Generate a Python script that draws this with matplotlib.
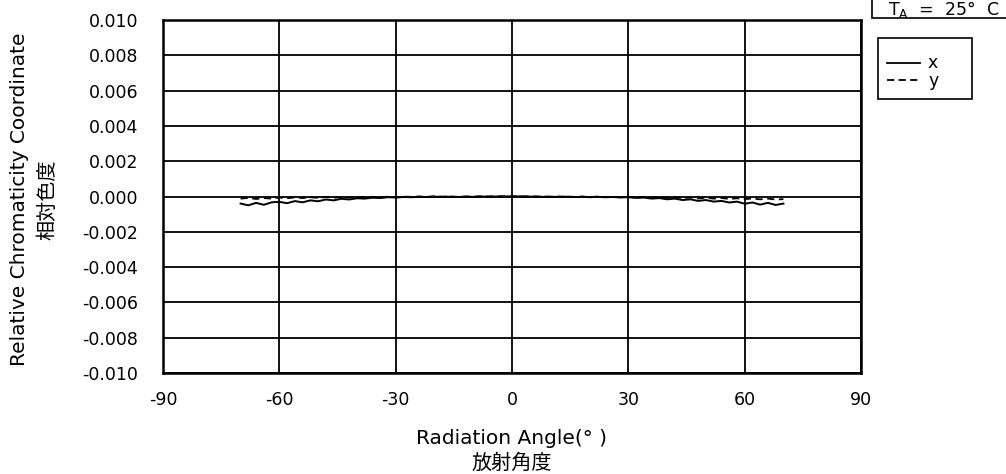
import matplotlib
matplotlib.use("Agg")
import matplotlib.pyplot as plt
from matplotlib.lines import Line2D
from matplotlib.patches import Rectangle

plt.rcParams['font.family'] = ['DejaVu Sans', 'Noto Sans CJK JP']

# radiation angle (deg)
angles = list(range(-70, 72, 2))

# relative chromaticity x (solid)
x_vals = [-0.00040, -0.00050, -0.00036, -0.00047, -0.00033, -0.00030, -0.00038, -0.00026,
          -0.00033, -0.00022, -0.00027, -0.00017, -0.00022, -0.00013, -0.00017, -0.00010,
          -0.00012, -0.00007, -0.00009, -0.00004, -0.00006, -0.00003, -0.00004, -0.00002,
          -0.00003, -0.00001, -0.00002, -0.00001, -0.00003, -0.00001, -0.00002, 0.00000,
          -0.00001, 0.00000, 0.00001, 0.00000, 0.00001, -0.00001, 0.00000, -0.00002,
          -0.00001, -0.00003, -0.00001, -0.00003, -0.00002, -0.00004, -0.00002, -0.00004,
          -0.00003, -0.00005, -0.00004, -0.00008, -0.00006, -0.00012, -0.00009, -0.00016,
          -0.00012, -0.00020, -0.00016, -0.00025, -0.00020, -0.00029, -0.00025, -0.00034,
          -0.00029, -0.00041, -0.00034, -0.00046, -0.00036, -0.00048, -0.00040]

# relative chromaticity y (dashed)
y_vals = [-0.00012, -0.00008, -0.00014, -0.00009, -0.00012, -0.00006, -0.00010, -0.00005,
          -0.00009, -0.00004, -0.00008, -0.00003, -0.00007, -0.00003, -0.00006, -0.00002,
          -0.00005, -0.00002, -0.00004, -0.00001, -0.00003, -0.00001, -0.00002, 0.00000,
          -0.00002, 0.00001, -0.00001, 0.00000, -0.00002, 0.00000, -0.00001, 0.00001,
          0.00000, 0.00001, 0.00000, 0.00001, 0.00000, 0.00001, -0.00001, 0.00000,
          -0.00002, 0.00000, -0.00001, -0.00002, 0.00000, -0.00003, -0.00001, -0.00004,
          -0.00002, -0.00005, -0.00002, -0.00006, -0.00003, -0.00007, -0.00004, -0.00008,
          -0.00005, -0.00009, -0.00006, -0.00011, -0.00007, -0.00012, -0.00008, -0.00014,
          -0.00010, -0.00015, -0.00011, -0.00016, -0.00012, -0.00017, -0.00015]

xticks = [-90, -60, -30, 0, 30, 60, 90]
yticks = [-0.010, -0.008, -0.006, -0.004, -0.002, 0.000, 0.002, 0.004, 0.006, 0.008, 0.010]

W, H = 1006, 474
fig = plt.figure(figsize=(W/100, H/100), dpi=100)
ax = fig.add_axes([163/W, 1-373/H, (861-163)/W, (373-20)/H])

ax.plot(angles, x_vals, color='black', lw=1.4)
ax.plot(angles, y_vals, color='black', lw=1.3, dashes=(4, 2.5))

ax.set_xlim(-90, 90)
ax.set_ylim(-0.010, 0.010)
ax.set_xticks(xticks)
ax.set_yticks(yticks)
ax.set_xticklabels([str(t) for t in xticks])
ax.set_yticklabels(['%.3f' % t for t in yticks])
ax.tick_params(length=0, labelsize=12.5)
ax.tick_params(axis='y', pad=18)
ax.tick_params(axis='x', pad=13)
ax.grid(True, color='black', lw=1.3)
ax.set_axisbelow(True)
for s in ax.spines.values():
    s.set_linewidth(1.8)

fig.text(20/W, 1-199/H, 'Relative Chromaticity Coordinate', rotation=90,
         ha='center', va='center', fontsize=14.5)
fig.text(48/W, 1-200/H, '相対色度', rotation=90, ha='center', va='center', fontsize=14.5)
fig.text(512/W, 1-439/H, 'Radiation Angle(° )', ha='center', va='center', fontsize=14.5)
fig.text(512/W, 1-463/H, '放射角度', ha='center', va='center', fontsize=14.5)

# T_A box
fig.patches.append(Rectangle((872/W, 1-18/H), 140/W, 22/H, transform=fig.transFigure,
                             fc='white', ec='black', lw=1.2))
fig.text(888/W, 1-10/H, r'T$_\mathregular{A}$  =  25°  C', ha='left', va='center', fontsize=12.5)

# legend box
fig.patches.append(Rectangle((878/W, 1-99/H), 94/W, 61/H, transform=fig.transFigure,
                             fc='white', ec='black', lw=1.2))
fig.lines.append(Line2D([887/W, 920/W], [1-63/H, 1-63/H], transform=fig.transFigure,
                        color='black', lw=1.3))
fig.lines.append(Line2D([887/W, 920/W], [1-80/H, 1-80/H], transform=fig.transFigure,
                        color='black', lw=1.3, dashes=(4, 2.4)))
fig.text(928/W, 1-63/H, 'x', ha='left', va='center', fontsize=12.5)
fig.text(928/W, 1-81/H, 'y', ha='left', va='center', fontsize=12.5)

fig.savefig('out.png', dpi=100)
